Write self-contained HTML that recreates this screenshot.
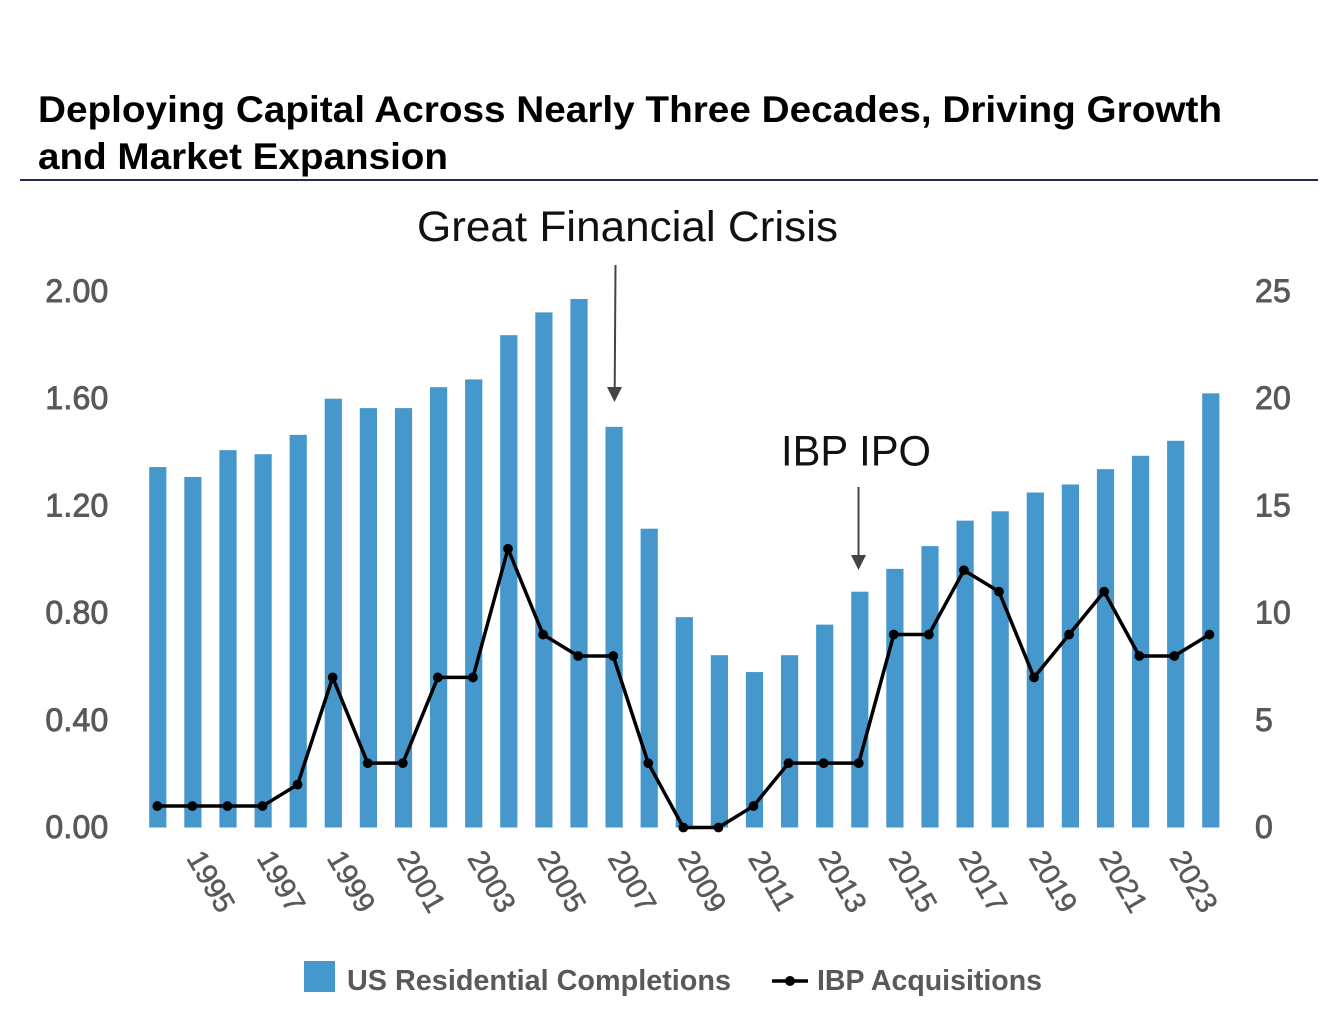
<!DOCTYPE html>
<html lang="en">
<head>
<meta charset="utf-8">
<title>Deploying Capital Across Nearly Three Decades</title>
<style>
html,body{margin:0;padding:0;background:#fff;width:1336px;height:1036px;overflow:hidden}
svg{display:block}
text{font-family:"Liberation Sans",sans-serif}
.tick{font-size:32px;fill:#595959;stroke:#595959;stroke-width:.9px;letter-spacing:.2px}
.xtick{font-size:29.5px;fill:#595959;stroke:#595959;stroke-width:.5px}
.legend-text{font-size:29px;font-weight:bold;fill:#595959}
.title{font-size:37px;font-weight:bold;fill:#000}
.note{font-size:43px;fill:#111}
</style>
</head>
<body>
<svg id="chart" width="1336" height="1036" viewBox="0 0 1336 1036" xmlns="http://www.w3.org/2000/svg">
  <text class="title" x="38" y="122" textLength="1184" lengthAdjust="spacingAndGlyphs">Deploying Capital Across Nearly Three Decades, Driving Growth</text>
  <text class="title" x="38" y="169" textLength="410" lengthAdjust="spacingAndGlyphs">and Market Expansion</text>
  <line x1="20" y1="180" x2="1318" y2="180" stroke="#1f2a55" stroke-width="2"/>
  <g id="bars"></g>
  <g id="line"></g>
  <g id="yleft"></g>
  <g id="yright"></g>
  <g id="xaxis"></g>
  <text class="note" x="417" y="241" textLength="421" lengthAdjust="spacingAndGlyphs">Great Financial Crisis</text>
  <line x1="615.5" y1="265" x2="614.7" y2="390" stroke="#444" stroke-width="2"/>
  <polygon points="607,387 622,387 614.5,402" fill="#444"/>
  <text class="note" x="781" y="465.5" textLength="150" lengthAdjust="spacingAndGlyphs">IBP IPO</text>
  <line x1="858.5" y1="487" x2="858.5" y2="558" stroke="#444" stroke-width="2"/>
  <polygon points="851,555 866,555 858.5,570" fill="#444"/>
  <rect x="304" y="961" width="31" height="31" fill="#4698cc"/>
  <text class="legend-text" x="347" y="990" textLength="384" lengthAdjust="spacingAndGlyphs">US Residential Completions</text>
  <line x1="772" y1="981" x2="808" y2="981" stroke="#000" stroke-width="3.5"/>
  <circle cx="790" cy="981" r="5" fill="#000"/>
  <text class="legend-text" x="817" y="990" textLength="225" lengthAdjust="spacingAndGlyphs">IBP Acquisitions</text>
</svg>
<script>
const years = [1994,1995,1996,1997,1998,1999,2000,2001,2002,2003,2004,2005,2006,2007,2008,2009,2010,2011,2012,2013,2014,2015,2016,2017,2018,2019,2020,2021,2022,2023,2024];
const completions = [1.345,1.308,1.408,1.393,1.465,1.60,1.565,1.565,1.643,1.672,1.837,1.922,1.972,1.495,1.115,0.785,0.643,0.58,0.643,0.757,0.88,0.965,1.05,1.145,1.18,1.25,1.28,1.337,1.387,1.443,1.62];
const acquisitions = [1,1,1,1,2,7,3,3,7,7,13,9,8,8,3,0,0,1,3,3,3,9,9,12,11,7,9,11,8,8,9];
const leftTicks = [0,0.4,0.8,1.2,1.6,2.0];
const rightTicks = [0,5,10,15,20,25];
const yearLabels = [1995,1997,1999,2001,2003,2005,2007,2009,2011,2013,2015,2017,2019,2021,2023];

const NS = 'http://www.w3.org/2000/svg';
const plotBottom = 827.5, plotTop = 291.5;
const leftMax = 2.0, rightMax = 25;
const firstX = 157.8, stepX = 35.1, barWidth = 17.2;
const lineFirstX = 157.3, lineStepX = 35.07;
function xScale(year){ return firstX + (year - years[0]) * stepX; }
function xLine(year){ return lineFirstX + (year - years[0]) * lineStepX; }
function yLeft(v){ return plotBottom - (v / leftMax) * (plotBottom - plotTop); }
function yRight(v){ return plotBottom - (v / rightMax) * (plotBottom - plotTop); }
function make(tag, parent){ const el = document.createElementNS(NS, tag); document.getElementById(parent).appendChild(el); return el; }

years.forEach(function(year, i){
  const bar = make('rect', 'bars');
  
  
  bar.setAttribute('x', xScale(year) - barWidth / 2);
  bar.setAttribute('y', yLeft(completions[i]));
  bar.setAttribute('width', barWidth);
  bar.setAttribute('height', plotBottom - yLeft(completions[i]));
  bar.setAttribute('fill', '#4698cc');
});

const path = make('polyline', 'line');


path.setAttribute('points', years.map(function(year, i){ return xLine(year) + ',' + yRight(acquisitions[i]); }).join(' '));
path.setAttribute('fill', 'none');
path.setAttribute('stroke', '#000');
path.setAttribute('stroke-width', '3.5');
path.setAttribute('stroke-linejoin', 'round');

years.forEach(function(year, i){
  const dot = make('circle', 'line');
  
  
  dot.setAttribute('cx', xLine(year));
  dot.setAttribute('cy', yRight(acquisitions[i]));
  dot.setAttribute('r', '4.9');
  dot.setAttribute('fill', '#000');
});

leftTicks.forEach(function(v){
  const t = make('text', 'yleft');
  
  
  t.setAttribute('class', 'tick');
  t.setAttribute('x', 108.5);
  t.setAttribute('y', yLeft(v) + 10.5);
  t.setAttribute('text-anchor', 'end');
  t.textContent = v.toFixed(2);
});

rightTicks.forEach(function(v){
  const t = make('text', 'yright');
  
  
  t.setAttribute('class', 'tick');
  t.setAttribute('x', 1255);
  t.setAttribute('y', yRight(v) + 10.5);
  t.textContent = String(v);
});

yearLabels.forEach(function(year){
  const t = make('text', 'xaxis');
  const x = xScale(year) - 7, y = 858;
  
  
  t.setAttribute('class', 'xtick');
  t.setAttribute('x', x);
  t.setAttribute('y', y);
  t.setAttribute('transform', 'rotate(60 ' + x + ' ' + y + ')');
  t.textContent = String(year);
});
</script>
</body>
</html>
